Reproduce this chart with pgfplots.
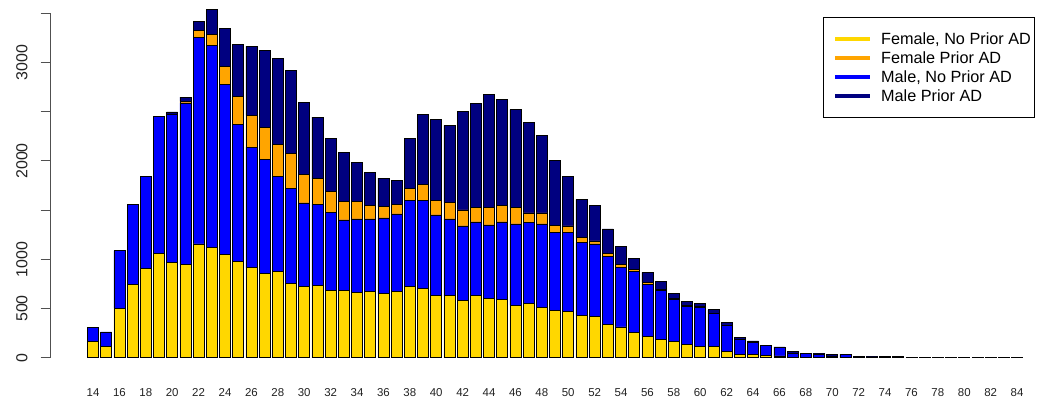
\documentclass[border=0pt]{standalone}
\usepackage{pgfplots}
\pgfplotsset{compat=1.18}
\usepackage{pgfplotstable}
\usepackage{fontspec}
\setmainfont{Liberation Sans}
\definecolor{cfn}{HTML}{FFD700}
\definecolor{cfp}{HTML}{FFA500}
\definecolor{cmn}{HTML}{0000FF}
\definecolor{cmp}{HTML}{000080}
\definecolor{axisgray}{HTML}{505050}
\definecolor{labgray}{HTML}{222222}
\pgfplotstableread{
age fn mn fp mp
14 167 139 0 0
15 112 150 0 0
16 503 584 0 0
17 748 811 0 0
18 904 941 0 0
19 1060 1396 0 0
20 965 1508 0 24
21 945 1644 17 41
22 1156 2099 74 89
23 1125 2048 116 251
24 1050 1726 183 384
25 975 1393 286 533
26 914 1226 323 700
27 860 1151 327 780
28 880 965 323 869
29 754 965 354 846
30 724 849 289 731
31 734 825 259 628
32 683 795 214 533
33 683 717 187 502
34 662 748 177 394
35 670 740 136 339
36 649 771 116 288
37 670 791 98 245
38 724 870 128 503
39 703 891 163 719
40 629 822 149 825
41 629 781 166 785
42 578 761 163 999
43 629 751 146 1056
44 598 751 177 1151
45 588 792 166 1077
46 534 825 167 995
47 554 816 101 924
48 510 849 112 785
49 483 791 71 663
50 469 805 65 506
51 428 741 51 387
52 418 738 30 363
53 335 696 29 248
54 313 601 33 183
55 260 612 24 117
56 218 528 20 100
57 183 500 14 74
58 163 425 10 54
59 132 385 13 41
60 114 400 3 31
61 114 336 0 36
62 60 273 0 28
63 29 158 0 19
64 29 123 0 18
65 26 98 0 5
66 18 86 0 5
67 5 41 0 19
68 3 37 0 5
69 2 36 0 7
70 2 8 0 24
71 2 28 0 4
72 2 5 0 10
73 2 6 0 9
74 1 6 0 10
75 2 5 0 10
76 0 1 0 1
77 0 1 0 1
78 0 1 0 1
79 0 1 0 1
80 0 1 0 1
81 0 1 0 1
82 0 1 0 1
83 0 1 0 1
84 0 1 0 1
}\data
\begin{document}
\begin{tikzpicture}[x=1bp,y=1bp]
\useasboundingbox (0,0) rectangle (1037,400);
\begin{axis}[
  at={(50bp,42.3bp)}, anchor=south west,
  scale only axis, width=985bp, height=344.4bp,
  xmin=10.742, xmax=85.36, ymin=0, ymax=3500,
  clip=false,
  ybar stacked, bar width=11bp,
  axis x line*=bottom, axis y line*=left,
  x axis line style={draw=none},
  y axis line style={draw=axisgray, line width=0.9bp, -},
  xtick={14,16,...,84},
  xtick style={draw=none},
  ytick={0,500,...,3500},
  yticklabels={0,500,1000,,2000,,3000,},
  ytick style={draw=axisgray, line width=0.9bp},
  tick align=outside, major tick length=9.3bp,
  /pgf/number format/assume math mode=true,
  xticklabel style={font=\fontsize{11.5}{13}\selectfont, text=labgray, anchor=north, inner sep=0pt, yshift=-21bp},
  yticklabel style={font=\fontsize{16}{18}\selectfont, text=labgray, rotate=90, anchor=south, inner sep=0pt},
  yticklabel shift=13bp,
  legend cell align=left,
  legend style={at={(0.7845,0.9884)}, anchor=north west,
    font=\fontsize{16.3}{19}\selectfont, draw=black, line width=0.8bp, fill=white,
    inner xsep=3bp, inner ysep=11.7bp, row sep=0pt,
    nodes={inner xsep=0pt, inner ysep=3.65bp, text height=11.7bp, text depth=0pt},
    /tikz/column 2/.style={column sep=0pt},
    /tikz/column 1/.style={column sep=8.5bp}},
  legend image code/.code={\path[draw=none,fill=none] (0bp,0bp) -- (1bp,0bp);\draw[#1, line width=4.3bp] (9.3bp,0bp) -- (44.3bp,0bp);},
  every axis plot/.append style={draw=black, line width=0.8bp},
]
\addplot[fill=cfn, forget plot] table[x=age, y=fn] {\data};
\addplot[fill=cmn, forget plot] table[x=age, y=mn] {\data};
\addplot[fill=cfp, forget plot] table[x=age, y=fp] {\data};
\addplot[fill=cmp, forget plot] table[x=age, y=mp] {\data};
\addlegendimage{draw=cfn}
\addlegendentry{Female, No Prior AD}
\addlegendimage{draw=cfp}
\addlegendentry{Female Prior AD}
\addlegendimage{draw=cmn}
\addlegendentry{Male, No Prior AD}
\addlegendimage{draw=cmp}
\addlegendentry{Male Prior AD}
\end{axis}
\end{tikzpicture}
\end{document}
